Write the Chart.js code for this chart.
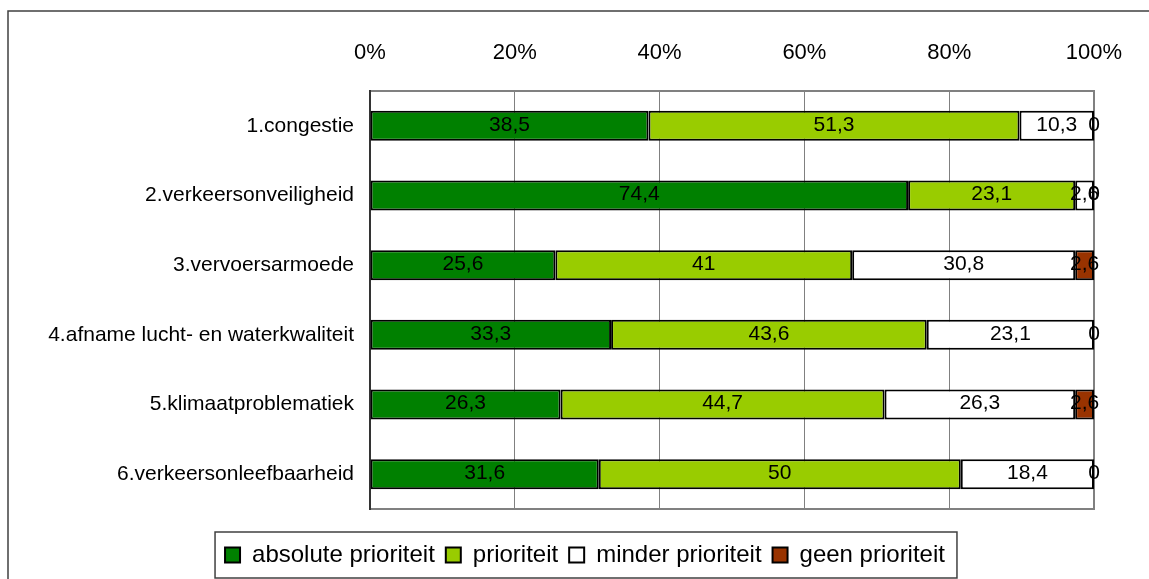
<!DOCTYPE html>
<html lang="nl">
<head>
  <meta charset="UTF-8">
  <title>Prioriteiten mobiliteitsproblemen</title>
  <script src="https://cdn.jsdelivr.net/npm/chart.js"></script>
  <style>
    body {
      margin: 0;
      padding: 0;
      background-color: #ffffff;
    }
    .container {
      position: relative;
      width: 1149px;
      height: 579px;
    }
  </style>
</head>
<body>
  <div class="container">
    <canvas id="prioriteitChart"></canvas>
  </div>

  <script>
    // Gegevens per probleem (percentages)
    const categorieen = [
      '1.congestie',
      '2.verkeersonveiligheid',
      '3.vervoersarmoede',
      '4.afname lucht- en waterkwaliteit',
      '5.klimaatproblematiek',
      '6.verkeersonleefbaarheid'
    ];
    const reeksNamen = ['absolute prioriteit', 'prioriteit', 'minder prioriteit', 'geen prioriteit'];
    const absolutePrioriteit = [38.5, 74.4, 25.6, 33.3, 26.3, 31.6];
    const prioriteit = [51.3, 23.1, 41, 43.6, 44.7, 50];
    const minderPrioriteit = [10.3, 2.6, 30.8, 23.1, 26.3, 18.4];
    const geenPrioriteit = [0, 0, 2.6, 0, 2.6, 0];
    const asTicks = [0, 20, 40, 60, 80, 100];

    const reeksWaarden = [absolutePrioriteit, prioriteit, minderPrioriteit, geenPrioriteit];
    const kleuren = ['#008000', '#99CC00', '#FFFFFF', '#993300'];
    const lettertype = "'Liberation Sans', Arial, sans-serif";

    // 100% gestapeld: elke rij wordt herschaald naar een totaal van 100
    const totalen = categorieen.map((c, i) => reeksWaarden.reduce((s, r) => s + r[i], 0));

    const datasets = reeksWaarden.map((reeks, k) => ({
      label: reeksNamen[k],
      data: reeks.map((v, i) => v / totalen[i] * 100),
      ruw: reeks,
      backgroundColor: kleuren[k],
      borderColor: '#000000',
      borderWidth: 2,
      borderSkipped: false,
      barPercentage: 0.43,
      categoryPercentage: 1
    }));

    // Kader rond de hele grafiek en rond het plotgebied
    const kaderPlugin = {
      id: 'kader',
      afterLayout(chart) {
        // lange categorielabels mogen links buiten de as-box uitsteken
        chart.scales.y.left = 0;
      },
      beforeDraw(chart) {
        const ctx = chart.ctx;
        const a = chart.chartArea;
        ctx.save();
        ctx.strokeStyle = '#404040';
        ctx.lineWidth = 1.5;
        ctx.strokeRect(8, 11, chart.width + 20, chart.height + 20);
        ctx.strokeStyle = '#808080';
        ctx.lineWidth = 2;
        ctx.strokeRect(a.left, a.top, a.right - a.left, a.bottom - a.top);
        ctx.restore();
      },
      afterDraw(chart) {
        // rand rond de legenda
        const boxes = chart.legend.legendHitBoxes;
        if (!boxes || !boxes.length) return;
        const ctx = chart.ctx;
        const links = Math.min(...boxes.map(b => b.left)) - 10;
        const rechts = Math.max(...boxes.map(b => b.left + b.width)) + 12;
        const midden = boxes[0].top + boxes[0].height / 2;
        ctx.save();
        ctx.strokeStyle = '#404040';
        ctx.lineWidth = 1.5;
        ctx.strokeRect(links, midden - 23, rechts - links, 46);
        ctx.restore();
      }
    };

    // Waardelabels in het midden van elk segment
    const labelPlugin = {
      id: 'waardeLabels',
      afterDatasetsDraw(chart) {
        const ctx = chart.ctx;
        ctx.save();
        ctx.font = '21px ' + lettertype;
        ctx.fillStyle = '#000000';
        ctx.textAlign = 'center';
        ctx.textBaseline = 'middle';
        chart.data.datasets.forEach((ds, k) => {
          const meta = chart.getDatasetMeta(k);
          meta.data.forEach((bar, i) => {
            const tekst = String(ds.ruw[i]).replace('.', ',');
            ctx.fillText(tekst, (bar.x + bar.base) / 2, bar.y - 1);
          });
        });
        ctx.restore();
      }
    };

    new Chart(document.getElementById('prioriteitChart'), {
      type: 'bar',
      data: {
        labels: categorieen,
        datasets: datasets
      },
      options: {
        indexAxis: 'y',
        responsive: true,
        maintainAspectRatio: false,
        animation: false,
        layout: {
          padding: { left: 76, right: 55, top: 0, bottom: 2 }
        },
        scales: {
          x: {
            position: 'top',
            stacked: true,
            min: 0,
            max: 100,
            afterBuildTicks(scale) {
              scale.ticks = asTicks.map(v => ({ value: v }));
            },
            afterFit(scale) {
              scale.height = 91;
            },
            ticks: {
              callback: v => v + '%',
              color: '#000000',
              font: { family: lettertype, size: 22 },
              padding: 25,
              maxRotation: 0
            },
            grid: {
              color: '#808080',
              lineWidth: 1,
              drawTicks: false
            },
            border: { color: '#808080', width: 1 }
          },
          y: {
            stacked: true,
            afterFit(scale) {
              scale.width = 294;
            },
            ticks: {
              color: '#000000',
              font: { family: lettertype, size: 21 },
              padding: 16
            },
            grid: { display: false, drawTicks: false },
            border: { display: true, color: '#333333', width: 2 }
          }
        },
        plugins: {
          tooltip: { enabled: false },
          legend: {
            position: 'bottom',
            // lege titel houdt ruimte vrij tussen plotgebied en legenda
            title: {
              display: true,
              text: '',
              font: { size: 10 },
              padding: { top: 0, bottom: 11 }
            },
            labels: {
              color: '#000000',
              font: { family: lettertype, size: 24 },
              boxWidth: 15,
              boxHeight: 15,
              padding: 11
            }
          }
        }
      },
      plugins: [kaderPlugin, labelPlugin]
    });
  </script>
</body>
</html>
